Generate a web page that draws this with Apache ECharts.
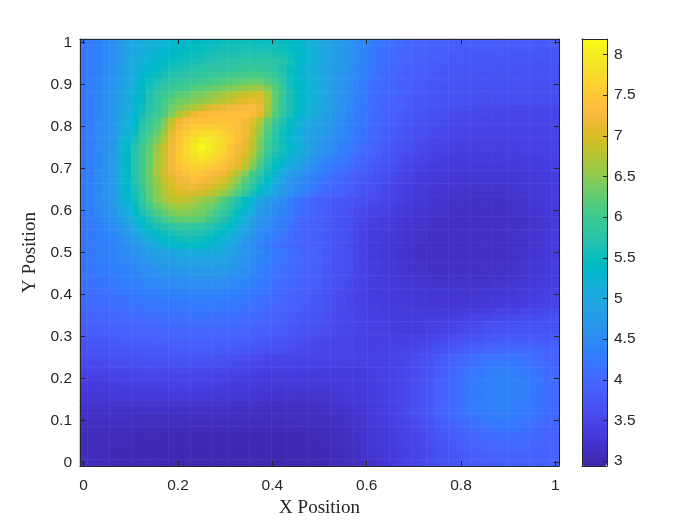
<!DOCTYPE html>
<html><head><meta charset="utf-8">
<style>html,body{margin:0;padding:0;background:#fff}#c{width:700px;height:525px}</style>
<script src="https://cdn.jsdelivr.net/npm/echarts@6/dist/echarts.min.js"></script>
</head><body><div id="c"></div>
<script>
// Values, in hundredths of the colour-bar unit. Rows run top (y=1) to bottom (y=0).
const row00=[420,428,436,445,460, 475,490,498,506,515, 520,525,530,535,538, 541,544,547,549,552, 555,554,554,553,552, 551,548,545,540,533, 525,515,505,495,485, 475,465,453,442,431, 420,415,410,405,400, 397,395,392,390,389, 388,386,385,385,385, 385,385,384,384,383, 382,382,381,381,380];
const row01=[420,428,436,445,458, 474,490,500,509,518, 524,530,535,540,543, 546,549,552,555,558, 560,560,560,560,560, 559,556,552,545,537, 528,517,505,495,484, 474,464,452,441,430, 418,412,407,402,398, 394,392,390,388,386, 385,383,382,382,382, 382,382,380,380,380, 379,379,378,378,377];
const row02=[420,428,437,446,457, 473,490,502,512,522, 529,536,541,546,549, 552,556,559,562,565, 566,567,568,569,570, 569,566,560,552,542, 531,519,506,495,484, 473,463,451,440,428, 416,410,405,400,395, 391,389,387,385,384, 382,380,379,378,378, 378,378,377,376,376, 375,375,374,374,373];
const row03=[420,429,437,446,458, 473,490,504,516,527, 536,544,550,555,557, 560,564,568,572,575, 577,579,581,582,583, 582,578,570,559,546, 533,520,506,495,483, 472,461,449,438,426, 413,408,403,398,394, 389,386,384,383,381, 379,378,377,376,375, 375,375,374,373,372, 372,371,371,371,370];
const row04=[420,430,440,450,460, 475,492,508,522,533, 542,552,560,563,566, 570,574,577,580,583, 586,588,590,592,590, 585,578,565,548,535, 524,514,505,493,482, 471,460,448,435,422, 410,405,400,395,390, 387,384,382,380,378, 377,376,375,374,373, 373,372,372,371,371, 370,370,369,369,368];
const row05=[420,430,440,451,462, 478,496,513,530,542, 552,561,569,573,576, 580,584,588,592,596, 600,603,606,608,607, 600,590,572,552,537, 526,515,506,493,481, 469,458,446,433,420, 408,403,398,393,388, 385,382,380,378,376, 375,374,373,372,371, 371,370,370,369,369, 368,368,367,367,366];
const row06=[420,430,440,452,463, 480,500,518,537,551, 562,572,581,586,590, 595,600,605,610,615, 619,623,627,630,630, 617,602,580,556,540, 528,517,507,493,480, 467,455,443,431,418, 406,401,396,391,386, 383,380,378,376,374, 373,371,370,369,368, 368,367,367,366,366, 365,365,364,364,363];
const row07=[420,430,441,453,465, 482,503,523,542,560, 573,585,595,601,607, 615,620,625,630,635, 642,648,655,660,662, 642,618,590,560,543, 530,520,508,493,479, 465,452,440,428,415, 404,399,394,389,384, 380,377,375,373,371, 370,369,368,367,366, 365,365,364,364,363, 362,362,361,361,361];
const row08=[420,430,441,453,465, 485,505,525,545,565, 582,598,610,620,627, 633,640,647,655,662, 672,680,688,695,700, 665,625,595,562,545, 532,520,510,494,478, 464,450,438,427,416, 405,400,395,390,385, 380,377,375,372,370, 369,367,366,365,364, 363,362,362,361,361, 360,360,360,360,360];
const row09=[420,431,442,454,466, 486,507,528,548,568, 588,606,622,632,640, 646,654,662,670,680, 690,700,707,712,708, 670,625,592,562,544, 530,518,508,492,476, 462,447,436,425,414, 403,398,393,388,382, 378,375,372,370,368, 366,364,363,362,361, 360,360,359,358,358, 358,358,358,358,358];
const row10=[420,431,442,455,468, 488,509,530,552,572, 590,610,632,648,660, 672,685,700,708,715, 722,728,730,730,715, 668,622,590,562,543, 528,515,505,490,474, 460,445,434,423,412, 402,396,390,385,380, 376,372,370,367,365, 363,361,359,358,357, 356,355,355,354,354, 354,354,354,354,354];
const row11=[420,431,443,456,470, 490,511,532,558,580, 598,616,645,670,695, 715,725,730,733,735, 737,738,738,732,710, 660,618,587,562,540, 525,512,498,486,472, 457,442,431,420,410, 401,394,388,382,377, 373,369,366,364,361, 359,357,355,354,353, 352,351,351,350,350, 350,351,351,351,351];
const row12=[420,432,445,458,472, 492,513,537,570,590, 610,640,685,715,730, 735,740,742,742,741, 740,736,725,705,670, 630,600,570,548,525, 512,500,490,478,466, 453,440,429,419,409, 400,393,386,380,375, 370,366,363,360,358, 356,354,352,351,350, 349,348,348,348,348, 348,348,349,349,350];
const row13=[420,432,445,458,472, 494,516,542,578,598, 618,650,698,728,743, 752,758,758,755,750, 744,738,722,695,658, 618,585,560,540,520, 507,495,485,473,461, 448,436,426,416,406, 397,390,383,377,371, 367,363,359,357,355, 352,350,349,348,347, 346,345,345,345,345, 346,346,347,347,348];
const row14=[420,432,445,458,474, 498,522,550,584,608, 630,665,710,740,758, 770,778,780,775,765, 752,738,720,688,648, 610,578,555,535,515, 502,490,480,468,456, 443,433,423,413,403, 395,388,381,374,368, 364,360,356,353,351, 349,347,346,345,344, 344,343,343,343,343, 344,344,345,345,346];
const row15=[420,432,445,458,476, 508,535,560,592,617, 645,678,718,748,770, 785,802,795,785,772, 755,735,715,682,640, 602,572,552,532,518, 500,485,475,463,451, 440,430,420,410,400, 392,385,378,371,365, 361,357,353,350,348, 346,344,343,342,341, 341,341,341,341,341, 342,342,343,344,344];
const row16=[420,432,445,458,478, 518,545,570,600,625, 660,690,720,750,770, 790,815,800,785,770, 745,725,710,680,640, 600,575,560,540,520, 505,490,470,460,447, 436,425,416,407,398, 390,382,375,367,360, 356,352,349,345,343, 342,341,340,340,340, 340,340,340,340,341, 342,343,343,344,345];
const row17=[420,432,445,459,480, 518,545,572,602,628, 662,692,722,752,772, 788,800,790,778,762, 740,722,703,668,628, 590,565,552,530,510, 495,480,462,452,440, 429,419,410,401,393, 385,378,371,363,356, 352,348,345,342,340, 339,338,337,337,337, 337,337,337,337,338, 340,341,342,343,344];
const row18=[422,433,446,460,481, 518,545,574,604,630, 665,694,722,750,765, 775,782,775,763,750, 732,715,690,655,615, 578,552,540,520,500, 485,470,452,442,431, 422,414,405,396,388, 380,374,367,359,352, 348,345,342,339,337, 336,335,334,334,334, 334,334,334,334,335, 336,337,338,340,341];
const row19=[424,434,447,461,482, 518,545,574,604,632, 668,696,722,744,755, 760,762,755,745,735, 722,705,678,640,600, 566,540,525,508,490, 475,458,442,433,423, 414,406,398,390,382, 375,369,362,354,348, 344,341,338,336,334, 333,332,331,331,330, 330,330,330,331,332, 333,334,335,337,339];
const row20=[425,435,448,462,482, 515,542,572,602,634, 665,695,715,730,740, 750,745,735,728,720, 695,670,640,605,580, 555,530,500,480,465, 455,445,430,422,413, 404,395,388,381,374, 368,362,356,350,345, 340,337,335,333,332, 330,329,328,328,328, 328,328,328,328,329, 330,332,334,336,338];
const row21=[425,435,448,462,482, 512,540,570,600,632, 660,690,708,720,728, 735,730,720,712,700, 675,650,620,590,565, 540,515,490,472,458, 447,437,423,415,407, 398,390,384,377,370, 364,358,353,347,342, 337,334,332,330,328, 327,326,325,325,325, 325,325,325,325,327, 329,331,333,335,337];
const row22=[425,435,448,462,480, 510,537,566,596,628, 655,680,700,710,715, 718,712,703,692,678, 655,630,602,575,550, 525,502,482,465,450, 440,430,416,408,401, 393,386,380,373,366, 360,354,349,343,338, 334,331,329,327,326, 325,323,323,322,322, 322,322,322,323,325, 327,329,331,334,336];
const row23=[425,435,448,462,478, 505,533,560,590,622, 650,672,690,698,700, 698,692,682,670,655, 635,610,585,560,535, 512,490,473,457,442, 432,422,408,402,396, 389,382,376,369,362, 357,351,345,340,335, 331,328,326,325,323, 322,321,320,320,319, 319,319,319,320,322, 325,327,330,333,336];
const row24=[425,435,448,460,475, 505,530,555,585,618, 645,665,678,685,682, 670,658,648,640,618, 595,570,545,525,495, 475,465,450,435,418, 408,398,390,385,380, 375,370,365,361,358, 355,350,345,340,335, 330,327,325,322,321, 320,319,318,318,318, 318,318,318,319,320, 322,325,328,332,335];
const row25=[424,433,446,458,468, 497,522,548,575,602, 628,645,658,665,662, 655,645,635,622,602, 580,558,535,512,486, 468,458,444,430,414, 405,396,389,384,378, 373,368,362,357,352, 350,346,341,336,332, 328,325,322,320,319, 318,317,316,316,316, 316,316,317,318,319, 321,324,327,331,334];
const row26=[423,431,443,455,462, 488,512,538,562,585, 610,625,638,645,645, 640,632,620,605,585, 565,545,522,498,475, 462,450,438,425,410, 402,394,388,383,377, 371,366,359,353,346, 345,342,337,332,328, 325,322,320,318,317, 316,315,315,315,315, 315,315,316,317,318, 320,323,326,330,333];
const row27=[421,428,438,449,455, 478,500,524,546,566, 590,605,618,625,628, 625,620,605,590,570, 552,532,510,485,466, 455,444,432,420,406, 399,392,387,382,376, 369,364,356,349,340, 340,338,333,329,325, 322,320,318,317,316, 315,315,315,315,315, 315,315,316,317,318, 320,322,325,329,332];
const row28=[420,426,434,442,450, 468,488,510,532,552, 565,573,580,590,590, 587,583,575,565,552, 538,518,500,480,462, 450,440,430,418,404, 396,390,385,380,374, 368,362,354,347,340, 340,336,331,328,324, 322,320,318,316,315, 315,315,315,315,315, 315,316,316,317,318, 320,322,325,328,332];
const row29=[420,426,432,439,445, 460,476,494,514,532, 546,556,563,570,573, 572,568,560,550,538, 522,505,487,468,452, 442,432,422,412,402, 396,390,385,380,374, 367,361,353,346,338, 337,333,329,326,322, 320,318,317,315,315, 315,315,315,315,315, 315,316,316,317,318, 320,322,325,329,333];
const row30=[420,425,431,437,442, 453,465,480,497,513, 528,538,547,553,556, 555,552,545,536,524, 508,492,475,458,445, 435,425,415,407,399, 394,389,386,380,373, 366,360,352,344,337, 335,331,327,324,320, 319,317,316,315,315, 315,315,315,315,315, 315,316,316,317,319, 321,323,326,330,334];
const row31=[420,425,430,435,440, 447,456,468,482,497, 510,520,530,536,540, 540,537,530,522,510, 495,480,465,450,437, 428,418,410,402,396, 392,389,388,380,372, 365,359,351,343,336, 334,330,326,323,320, 318,316,315,315,315, 315,315,315,315,315, 315,316,316,317,319, 321,323,326,330,335];
const row32=[420,425,430,435,440, 445,452,460,470,480, 487,491,495,500,502, 503,504,505,504,500, 490,480,470,455,445, 435,428,420,412,405, 400,395,390,380,370, 365,360,352,343,336, 335,330,326,322,319, 317,316,316,315,315, 315,315,315,315,315, 315,316,316,317,319, 322,324,327,331,335];
const row33=[419,424,429,433,437, 442,448,455,463,470, 478,482,486,490,492, 493,494,494,493,490, 482,473,463,451,441, 432,424,417,409,402, 398,393,389,379,369, 364,359,351,343,336, 335,330,326,322,319, 317,316,316,315,315, 315,315,315,315,315, 315,316,316,317,320, 322,325,328,332,336];
const row34=[418,422,427,431,434, 438,443,449,456,462, 468,472,476,480,482, 483,484,484,483,481, 474,466,457,447,437, 429,421,414,407,400, 396,392,388,378,368, 363,358,351,343,336, 335,330,327,323,320, 318,317,316,316,316, 316,316,316,316,316, 316,317,317,318,321, 323,326,329,333,336];
const row35=[417,421,425,429,431, 435,439,444,450,455, 460,463,466,470,472, 473,474,474,473,471, 466,459,451,442,433, 426,418,411,404,398, 394,390,386,376,367, 362,357,350,343,336, 335,331,328,324,322, 320,318,317,317,317, 317,317,317,317,317, 317,318,318,320,322, 325,327,330,334,337];
const row36=[415,418,420,423,425, 430,435,440,445,449, 452,455,458,460,461, 462,462,462,461,459, 456,450,445,437,430, 423,415,409,402,396, 392,388,385,375,365, 360,355,349,343,338, 335,332,329,327,325, 323,322,321,320,319, 319,318,318,318,318, 318,320,320,321,323, 325,328,331,335,338];
const row37=[411,414,416,419,421, 425,429,433,437,440, 443,446,448,450,451, 452,452,452,451,449, 446,441,437,430,424, 418,411,405,399,393, 389,385,382,373,364, 358,353,347,342,337, 335,333,331,329,327, 325,324,323,322,321, 321,321,321,321,321, 321,323,323,325,327, 329,331,334,337,341];
const row38=[408,411,413,415,417, 420,423,427,430,433, 435,437,439,441,442, 443,443,443,442,441, 438,434,430,424,418, 413,407,402,396,391, 387,383,380,371,363, 357,352,346,341,337, 336,334,332,331,329, 328,327,326,325,325, 325,325,324,325,325, 325,326,327,328,330, 332,335,338,341,344];
const row39=[404,407,409,411,413, 415,418,421,423,426, 428,429,431,432,433, 434,434,434,433,432, 430,427,424,419,413, 408,404,399,394,389, 385,380,377,369,361, 356,351,345,341,338, 337,335,333,332,331, 330,329,328,327,327, 326,326,326,327,328, 328,329,330,331,333, 335,338,341,344,347];
const row40=[400,403,405,407,410, 412,414,416,418,420, 421,422,423,424,425, 425,425,425,425,424, 423,420,418,413,408, 404,400,395,390,385, 381,378,375,367,360, 355,350,345,341,339, 340,336,334,332,330, 329,328,327,326,326, 326,327,327,328,328, 329,331,332,334,336, 338,341,344,347,350];
const row41=[395,398,400,402,405, 407,409,411,413,415, 416,417,418,419,419, 420,420,420,420,419, 418,415,413,409,404, 400,396,391,387,382, 378,375,372,365,359, 355,351,346,342,340, 339,337,335,334,333, 332,332,331,331,332, 332,333,334,336,337, 339,341,343,344,346, 348,350,352,354,356];
const row42=[390,393,395,397,399, 401,403,405,407,409, 410,411,412,412,413, 413,413,413,413,412, 411,408,406,403,399, 395,392,387,383,378, 374,371,368,362,357, 354,351,347,343,341, 340,339,338,337,337, 336,337,337,337,339, 340,342,344,346,348, 350,352,354,356,357, 359,360,361,362,363];
const row43=[385,388,390,392,394, 396,397,399,400,402, 403,404,405,405,406, 406,406,406,406,405, 404,402,400,397,393, 390,387,383,379,374, 370,367,365,360,355, 353,351,348,345,343, 341,340,339,338,338, 338,339,340,341,343, 346,349,352,354,357, 360,362,364,365,366, 367,367,368,368,368];
const row44=[380,382,384,386,388, 390,391,393,394,395, 396,397,398,400,400, 400,400,400,400,399, 398,396,395,391,388, 385,382,378,374,370, 367,364,362,358,355, 352,350,347,345,342, 340,339,338,337,336, 337,338,340,342,345, 348,351,355,358,361, 364,368,369,370,371, 372,372,371,371,370];
const row45=[375,377,379,381,383, 385,386,387,388,390, 391,392,393,394,394, 394,394,394,393,393, 392,390,388,385,382, 379,376,372,368,365, 362,359,357,354,352, 349,347,345,343,342, 341,340,340,340,340, 342,344,347,350,354, 358,362,365,368,371, 374,376,378,379,380, 380,380,379,378,377];
const row46=[370,372,374,376,378, 380,381,382,383,384, 385,386,387,387,388, 388,388,388,388,387, 386,384,382,379,376, 373,370,366,362,359, 356,354,353,350,349, 347,346,344,342,341, 341,342,342,343,344, 347,351,355,359,364, 369,373,377,380,383, 386,388,390,391,391, 390,389,388,386,385];
const row47=[365,367,369,370,372, 374,375,376,377,378, 379,380,381,381,382, 382,382,382,381,380, 378,377,375,372,369, 366,363,360,357,354, 352,351,350,349,348, 347,346,345,344,343, 343,344,345,347,349, 353,357,361,366,371, 378,383,388,391,395, 398,401,403,404,404, 403,402,400,397,395];
const row48=[360,361,362,364,365, 366,367,368,370,371, 372,373,374,375,375, 374,373,372,370,368, 366,363,360,358,355, 352,350,350,350,350, 350,350,350,349,348, 347,345,345,345,345, 345,346,348,350,352, 358,363,369,375,382, 390,397,405,409,412, 415,418,419,419,418, 412,408,402,397,392];
const row49=[353,354,355,357,358, 359,360,361,362,363, 364,365,365,366,366, 365,364,363,362,360, 358,355,353,351,349, 346,345,345,345,344, 344,344,344,343,343, 342,341,342,342,343, 344,345,347,349,352, 358,364,370,377,384, 393,400,408,413,417, 421,424,425,425,423, 417,412,406,401,396];
const row50=[347,348,349,350,351, 352,353,354,355,356, 356,357,357,358,358, 357,356,355,354,352, 350,348,346,344,343, 340,340,340,339,339, 339,339,339,338,338, 337,337,338,339,340, 342,344,346,349,352, 358,365,372,380,388, 397,405,413,418,423, 428,431,432,432,429, 423,418,412,406,400];
const row51=[341,341,342,343,344, 345,346,347,348,348, 349,349,349,350,350, 349,348,347,346,344, 342,340,339,337,336, 334,334,334,334,334, 334,334,334,334,335, 335,335,336,337,338, 340,343,346,349,352, 358,365,373,382,390, 400,408,416,422,427, 432,436,437,436,433, 427,421,415,408,402];
const row52=[335,336,336,337,338, 339,340,340,342,342, 343,343,344,345,345, 344,343,342,341,339, 337,335,335,334,333, 331,330,330,330,330, 330,330,330,331,332, 333,334,335,336,338, 340,343,346,350,355, 361,367,375,385,392, 402,410,420,426,431, 436,440,440,438,435, 432,425,418,411,405];
const row53=[331,332,332,333,334, 335,336,336,337,337, 338,338,339,339,339, 338,337,336,335,334, 332,331,330,329,328, 327,326,326,326,326, 326,326,326,327,329, 330,332,333,335,337, 339,342,345,350,355, 361,368,376,386,393, 403,411,420,426,431, 436,439,439,437,434, 431,424,417,411,404];
const row54=[326,327,327,328,329, 330,330,331,331,331, 331,332,332,332,332, 331,331,330,329,328, 327,326,325,324,323, 322,321,321,321,321, 321,321,322,323,325, 327,329,331,333,336, 338,341,345,350,356, 361,368,376,386,393, 402,410,420,426,431, 436,438,438,436,433, 429,423,416,410,404];
const row55=[322,322,322,323,323, 324,324,324,325,325, 325,325,325,325,325, 325,325,324,324,323, 322,321,320,319,318, 317,316,316,316,316, 316,317,318,319,322, 324,327,329,331,334, 337,341,345,350,356, 361,368,376,388,394, 403,411,420,425,430, 435,437,436,434,431, 427,421,415,409,403];
const row56=[318,318,318,318,318, 318,318,318,318,318, 318,318,318,318,318, 318,317,316,316,316, 315,315,314,313,313, 312,312,312,312,313, 313,314,315,317,319, 321,322,325,328,332, 335,339,344,350,360, 365,370,380,390,396, 405,412,420,425,430, 434,435,435,432,428, 425,420,414,408,402];
const row57=[315,315,315,315,315, 315,315,314,314,314, 314,314,314,314,314, 314,314,313,313,313, 312,312,312,311,311, 310,310,310,310,311, 311,312,313,314,316, 318,320,323,326,330, 334,338,343,348,355, 361,367,376,386,392, 401,407,415,420,424, 428,430,430,428,425, 421,417,411,406,400];
const row58=[312,312,312,312,312, 312,311,311,311,310, 310,310,310,310,309, 309,309,309,309,308, 308,308,308,308,308, 308,308,308,308,308, 309,309,310,312,314, 316,318,321,325,329, 333,336,341,346,351, 357,363,371,380,386, 394,400,408,412,417, 421,424,424,423,420, 416,412,407,402,397];
const row59=[310,310,310,309,309, 309,309,309,308,308, 307,307,307,307,307, 306,306,306,306,306, 306,306,305,305,305, 305,305,305,305,306, 306,307,308,310,312, 314,316,319,323,327, 331,335,339,344,349, 354,360,367,375,381, 388,394,401,405,409, 413,416,417,417,415, 412,408,404,400,395];
const row60=[308,308,307,307,306, 306,306,305,304,304, 304,304,304,303,303, 303,303,303,302,302, 302,302,302,302,302, 302,303,303,303,303, 304,304,305,307,309, 312,315,318,322,326, 330,334,338,342,345, 350,355,362,370,376, 382,388,394,399,402, 405,408,408,407,406, 405,403,400,396,392];
const row61=[308,307,307,306,305, 305,304,304,303,303, 303,303,303,302,302, 302,302,302,301,301, 301,301,301,301,301, 301,302,302,302,302, 303,303,304,306,308, 310,313,317,321,325, 329,333,337,341,345, 349,354,361,368,373, 379,384,390,395,398, 401,403,403,403,402, 401,400,398,395,392];
const row62=[309,307,306,305,304, 304,303,303,303,302, 302,302,302,301,301, 301,301,301,301,301, 300,300,300,300,300, 301,301,301,301,302, 302,302,303,305,307, 309,312,316,320,324, 328,332,336,340,344, 348,353,359,365,370, 375,380,386,390,393, 396,398,398,398,398, 398,397,396,394,392];
const row63=[309,308,306,305,304, 303,303,303,302,302, 302,301,301,301,301, 300,300,300,300,300, 300,300,300,300,300, 300,300,300,301,301, 301,301,302,304,306, 308,311,315,319,323, 327,331,335,339,343, 347,351,357,362,367, 372,376,381,385,388, 390,392,393,393,393, 393,393,393,392,392];
const row64=[310,308,306,305,304, 303,303,302,302,302, 301,301,301,300,300, 300,300,300,300,300, 300,300,300,300,300, 300,300,300,300,300, 300,300,300,302,304, 306,310,313,317,321, 325,328,332,338,345, 350,355,360,365,370, 372,376,380,383,385, 387,388,390,390,390, 390,391,391,392,392];
const hundredthRows=[row00,row01,row02,row03,row04,row05,row06,row07,row08,row09,row10,row11,row12,row13,row14,row15,row16,row17,row18,row19,row20,row21,row22,row23,row24,row25,row26,row27,row28,row29,row30,row31,row32,row33,row34,row35,row36,row37,row38,row39,row40,row41,row42,row43,row44,row45,row46,row47,row48,row49,row50,row51,row52,row53,row54,row55,row56,row57,row58,row59,row60,row61,row62,row63,row64];

const xTicks=[0,0.2,0.4,0.6,0.8,1];
const yTicks=[0,0.1,0.2,0.3,0.4,0.5,0.6,0.7,0.8,0.9,1];
const barTicks=[3,3.5,4,4.5,5,5.5,6,6.5,7,7.5,8];
const colourMin=2.94, colourMax=8.19;
const parula=[[0.2422,0.1504,0.6603],[0.2504,0.1650,0.7076],[0.2578,0.1818,0.7511],[0.2647,0.1978,0.7952],[0.2706,0.2147,0.8364],[0.2751,0.2342,0.8710],[0.2783,0.2559,0.8991],[0.2803,0.2782,0.9221],[0.2813,0.3006,0.9414],[0.2810,0.3228,0.9579],[0.2795,0.3447,0.9717],[0.2760,0.3667,0.9829],[0.2699,0.3892,0.9906],[0.2602,0.4123,0.9952],[0.2440,0.4358,0.9988],[0.2206,0.4603,0.9973],[0.1963,0.4847,0.9892],[0.1834,0.5074,0.9798],[0.1786,0.5289,0.9682],[0.1764,0.5499,0.9520],[0.1687,0.5703,0.9359],[0.1540,0.5902,0.9218],[0.1460,0.6091,0.9079],[0.1380,0.6276,0.8973],[0.1248,0.6459,0.8883],[0.1113,0.6635,0.8763],[0.0952,0.6798,0.8598],[0.0689,0.6948,0.8394],[0.0297,0.7082,0.8163],[0.0036,0.7203,0.7917],[0.0067,0.7312,0.7660],[0.0433,0.7411,0.7394],[0.0964,0.7500,0.7120],[0.1408,0.7584,0.6842],[0.1717,0.7670,0.6554],[0.1938,0.7758,0.6251],[0.2161,0.7843,0.5923],[0.2470,0.7918,0.5567],[0.2906,0.7973,0.5188],[0.3406,0.8008,0.4789],[0.3909,0.8029,0.4354],[0.4456,0.8024,0.3909],[0.5044,0.7993,0.3480],[0.5616,0.7942,0.3045],[0.6174,0.7876,0.2612],[0.6720,0.7793,0.2227],[0.7242,0.7698,0.1910],[0.7738,0.7598,0.1646],[0.8203,0.7498,0.1535],[0.8634,0.7406,0.1596],[0.9035,0.7330,0.1774],[0.9393,0.7288,0.2100],[0.9728,0.7298,0.2394],[0.9956,0.7434,0.2371],[0.9970,0.7659,0.2199],[0.9952,0.7893,0.2028],[0.9892,0.8136,0.1885],[0.9786,0.8386,0.1766],[0.9676,0.8639,0.1643],[0.9610,0.8890,0.1537],[0.9597,0.9135,0.1423],[0.9628,0.9373,0.1265],[0.9691,0.9606,0.1064],[0.9769,0.9839,0.0805]];
const parulaColours=parula.map(c=>`rgb(${c.map(v=>Math.round(v*255)).join(',')})`);

const n=hundredthRows.length;
const cats=Array.from({length:n},(_,i)=>String(i));
const cells=[];
hundredthRows.forEach((row,r)=>row.forEach((v,i)=>cells.push([i,n-1-r,v/100])));
const pad=1/(2*(n-1));
const ink='#262626';
const labelFont={color:ink,fontSize:15.5,fontFamily:'"Liberation Sans",Arial,sans-serif'};
const nameFont={color:'#262626',fontSize:19,fontFamily:'"Liberation Serif",serif'};
const line={show:true,onZero:false,lineStyle:{color:ink,width:1}};
function valueAxis(pos,ticks,labelled,extra){
  return Object.assign({type:'value',position:pos,gridIndex:0,min:-pad,max:1+pad,z:10,silent:true,splitLine:{show:false},
    axisLine:line,
    axisTick:{show:true,inside:true,length:5,customValues:ticks,lineStyle:{color:ink,width:1}},
    axisLabel:Object.assign({show:labelled,margin:labelled?(pos==='bottom'?12:8):0,padding:(pos==='left')?[2,0,0,0]:0,customValues:ticks,hideOverlap:false,showMinLabel:true,showMaxLabel:true},labelFont)},extra||{});
}
const option={
  animation:false,backgroundColor:'#fff',
  grid:[{left:80,top:39,width:479,height:427,containLabel:false},{left:582,top:39,width:25,height:427}],
  xAxis:[
    {type:'category',data:cats,gridIndex:0,show:false,boundaryGap:true},
    valueAxis('bottom',xTicks,true,{name:'X Position',nameLocation:'middle',nameGap:31,nameTextStyle:nameFont}),
    valueAxis('top',xTicks,false),
    {type:'value',gridIndex:1,position:'bottom',min:0,max:1,z:10,axisLine:line,axisTick:{show:false},axisLabel:{show:false},splitLine:{show:false}},
    {type:'value',gridIndex:1,position:'top',min:0,max:1,z:10,axisLine:line,axisTick:{show:false},axisLabel:{show:false},splitLine:{show:false}}
  ],
  yAxis:[
    {type:'category',data:cats,gridIndex:0,show:false,boundaryGap:true},
    valueAxis('left',yTicks,true,{name:'Y Position',nameLocation:'middle',nameGap:37,nameTextStyle:nameFont}),
    valueAxis('right',yTicks,false),
    {type:'value',gridIndex:1,position:'left',min:colourMin,max:colourMax,z:10,axisLine:line,axisTick:{show:false},axisLabel:{show:false},splitLine:{show:false}},
    {type:'value',gridIndex:1,position:'right',min:colourMin,max:colourMax,z:10,splitLine:{show:false},axisLine:line,
      axisTick:{show:true,inside:true,length:4,customValues:barTicks,lineStyle:{color:ink,width:1}},
      axisLabel:Object.assign({margin:7,padding:[2,0,0,0],customValues:barTicks,hideOverlap:false},labelFont)}
  ],
  visualMap:{type:'continuous',min:colourMin,max:colourMax,seriesIndex:0,calculable:false,hoverLink:false,
    left:582,top:39,itemWidth:25,itemHeight:427,inRange:{color:parulaColours},text:['',''],textGap:0,padding:0,showLabel:false},
  series:[{type:'heatmap',xAxisIndex:0,yAxisIndex:0,data:cells,progressive:0,silent:true,emphasis:{disabled:true},itemStyle:{borderWidth:0}}]
};
echarts.init(document.getElementById('c'),null,{renderer:'canvas'}).setOption(option);
</script></body></html>
